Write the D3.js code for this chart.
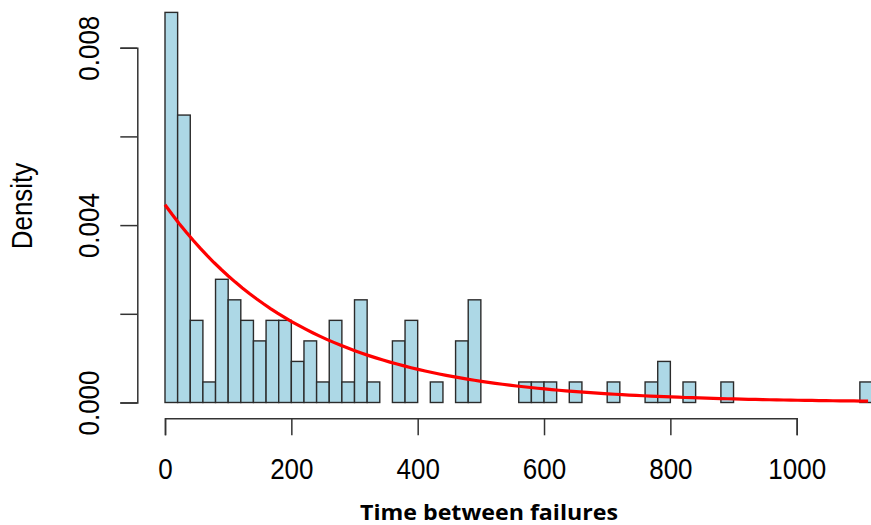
<!DOCTYPE html>
<html>
<head>
<meta charset="utf-8">
<script src="https://cdn.jsdelivr.net/npm/d3@7"></script>
<style>
  html, body { margin: 0; padding: 0; background: #fff; }
  svg { display: block; }
</style>
</head>
<body>
<svg id="chart" width="871" height="525"></svg>
<script>
// ---- data ----
const binStarts = d3.range(0, 1120, 20); // 56 bins of width 20
const binWidth = 20;
// density of each bin
const binDensity = [
  0.008796, 0.006481, 0.001852, 0.000463, 0.002778, 0.002315, 0.001852, 0.001389,
  0.001852, 0.001852, 0.000926, 0.001389, 0.000463, 0.001852, 0.000463, 0.002315,
  0.000463, 0.000000, 0.001389, 0.001852, 0.000000, 0.000463, 0.000000, 0.001389,
  0.002315, 0.000000, 0.000000, 0.000000, 0.000463, 0.000463, 0.000463, 0.000000,
  0.000463, 0.000000, 0.000000, 0.000463, 0.000000, 0.000000, 0.000463, 0.000926,
  0.000000, 0.000463, 0.000000, 0.000000, 0.000463, 0.000000, 0.000000, 0.000000,
  0.000000, 0.000000, 0.000000, 0.000000, 0.000000, 0.000000, 0.000000, 0.000463
];
const xTicks = [0, 200, 400, 600, 800, 1000];
const xTickLabels = ["0", "200", "400", "600", "800", "1000"];
const yTicks = [0, 0.002, 0.004, 0.006, 0.008];
const yTickLabels = ["0.000", "", "0.004", "", "0.008"];
const fitRate = 0.00446;      // fitted exponential rate (red curve)
const curveRange = [0, 1113]; // extent of the fitted curve
const xLabel = "Time between failures";
const yLabel = "Density";

// ---- layout ----
const svg = d3.select("#chart");
const x = d3.scaleLinear().domain([0, 1000]).range([165, 796.7]);
const y = d3.scaleLinear().domain([0, 0.008]).range([402.5, 47.7]);

const axisColor = "#333";
const tickFont = "'Liberation Sans', Arial, sans-serif";

// bars
const bins = binStarts.map((s, i) => ({ x0: s, x1: s + binWidth, d: binDensity[i] }));
svg.append("g").selectAll("rect").data(bins).join("rect")
  .attr("x", d => x(d.x0))
  .attr("y", d => y(d.d))
  .attr("width", d => x(d.x1) - x(d.x0))
  .attr("height", d => y(0) - y(d.d))
  .attr("fill", "#ADD8E6")
  .attr("stroke", "#2b2b2b")
  .attr("stroke-width", 1.4);

// fitted curve
const nPts = 101;
const curvePts = d3.range(nPts).map(i => {
  const t = curveRange[0] + (curveRange[1] - curveRange[0]) * i / (nPts - 1);
  return [t, fitRate * Math.exp(-fitRate * t)];
});
svg.append("path")
  .datum(curvePts)
  .attr("fill", "none")
  .attr("stroke", "#ff0000")
  .attr("stroke-width", 3.2)
  .attr("d", d3.line().x(d => x(d[0])).y(d => y(d[1])));

// x axis
const gx = svg.append("g")
  .attr("transform", "translate(0,418.3)")
  .call(d3.axisBottom(x).tickValues(xTicks).tickSizeOuter(0).tickSize(17)
    .tickFormat((d, i) => xTickLabels[i]));
gx.select(".domain").attr("stroke", axisColor).attr("stroke-width", 1.5);
gx.selectAll(".tick line").attr("stroke", axisColor).attr("stroke-width", 1.5);
gx.selectAll(".tick text")
  .attr("y", null).attr("dy", null)
  .attr("transform", "translate(0,60.7) scale(1,1.12)")
  .attr("font-family", tickFont)
  .attr("font-size", 26)
  .attr("fill", "#000");

// y axis
const gy = svg.append("g")
  .attr("transform", "translate(137.3,0)")
  .call(d3.axisLeft(y).tickValues(yTicks).tickSizeOuter(0).tickSize(17)
    .tickFormat((d, i) => yTickLabels[i]));
gy.select(".domain").attr("stroke", axisColor).attr("stroke-width", 1.5);
gy.selectAll(".tick line").attr("stroke", axisColor).attr("stroke-width", 1.5);
gy.selectAll(".tick text")
  .attr("x", null).attr("dy", null)
  .attr("text-anchor", "middle")
  .attr("transform", "translate(-38.8,0) rotate(-90) scale(1,1.12)")
  .attr("font-family", tickFont)
  .attr("font-size", 26)
  .attr("fill", "#000");

// axis titles
svg.append("text")
  .attr("transform", "translate(31.5,206) rotate(-90) scale(1,1.12)")
  .attr("text-anchor", "middle")
  .attr("font-family", tickFont)
  .attr("font-size", 26)
  .attr("fill", "#000")
  .text(yLabel);

svg.append("text")
  .attr("x", 489)
  .attr("y", 519.5)
  .attr("text-anchor", "middle")
  .attr("font-family", "'Open Sans', 'Noto Sans', sans-serif")
  .attr("font-weight", "bold")
  .attr("font-size", 21.5)
  .attr("textLength", 258)
  .attr("lengthAdjust", "spacingAndGlyphs")
  .attr("fill", "#000")
  .text(xLabel);
</script>
</body>
</html>
